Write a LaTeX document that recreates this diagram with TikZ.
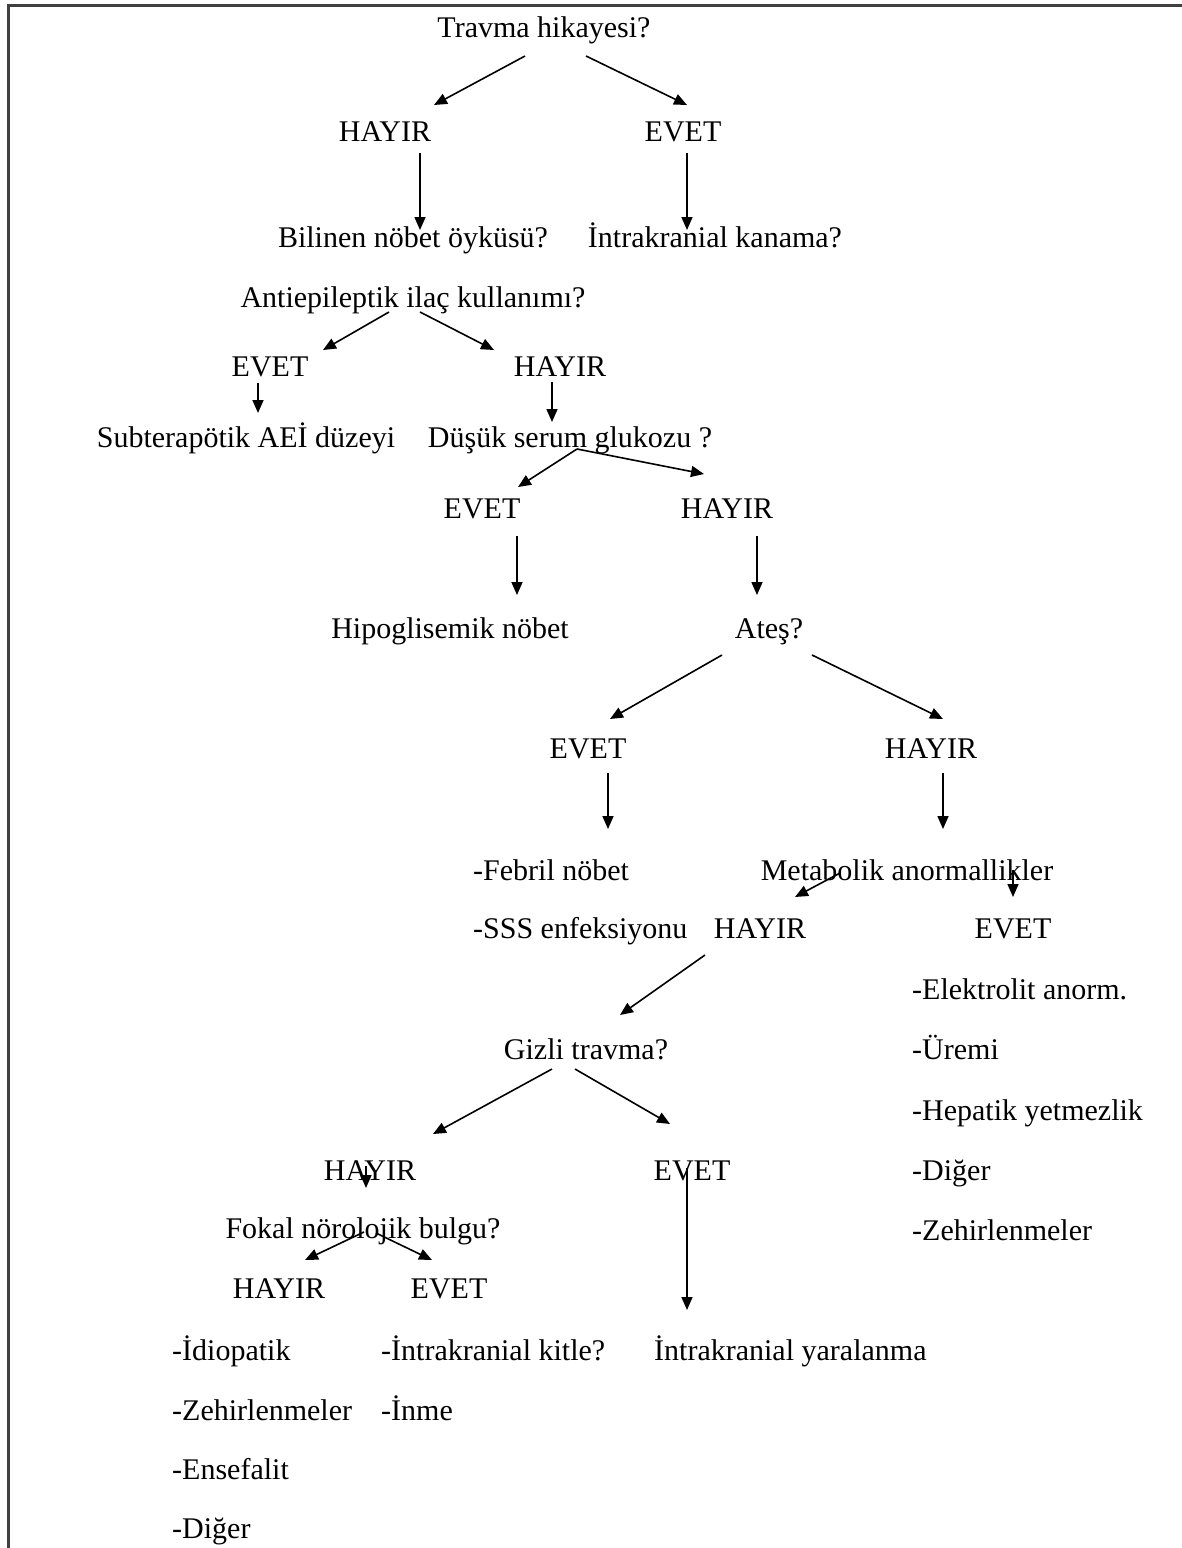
\documentclass[tikz,border=0pt]{standalone}
\usepackage{fontspec}
\setmainfont{Liberation Serif}
\usetikzlibrary{arrows.meta}
\begin{document}
\begin{tikzpicture}[x=1pt,y=-1pt,
  lbl/.style={inner sep=0pt,anchor=base,font=\fontsize{30}{36}\selectfont},
  lft/.style={lbl,anchor=base west},
  arr/.style={-{Triangle[length=13pt,width=11pt]},line width=1.6pt},
  frame/.style={line width=3pt,black!75}
]
\useasboundingbox (0,0) rectangle (1182,1548);
\coordinate (ftl) at (8,5);
\coordinate (ftr) at (1182,5);
\coordinate (fbl) at (8,1548);
\draw[frame] (ftr) -- (ftl) -- (fbl);

% nodes
\node[lbl] (travma) at (544,37) {Travma hikayesi?};
\node[lbl] (h1) at (385,141) {HAYIR};
\node[lbl] (e1) at (683,141) {EVET};
\node[lbl] (bilinen) at (413,247) {Bilinen nöbet öyküsü?};
\node[lbl] (kanama) at (715,247) {İntrakranial kanama?};
\node[lbl] (antiep) at (413,307) {Antiepileptik ilaç kullanımı?};
\node[lbl] (e2) at (270,376) {EVET};
\node[lbl] (h2) at (560,376) {HAYIR};
\node[lbl] (subter) at (246,447) {Subterapötik AEİ düzeyi};
\node[lbl] (dusuk) at (570,447) {Düşük serum glukozu ?};
\node[lbl] (e3) at (482,518) {EVET};
\node[lbl] (h3) at (727,518) {HAYIR};
\node[lbl] (hipo) at (450,638) {Hipoglisemik nöbet};
\node[lbl] (ates) at (769,638) {Ateş?};
\node[lbl] (e4) at (588,758) {EVET};
\node[lbl] (h4) at (931,758) {HAYIR};
\node[lft] (febril) at (473,880) {-Febril nöbet};
\node[lbl] (metab) at (907,880) {Metabolik anormallikler};
\node[lft] (sss) at (473,938) {-SSS enfeksiyonu};
\node[lbl] (h5) at (760,938) {HAYIR};
\node[lbl] (e5) at (1013,938) {EVET};
\node[lft] (elek) at (912,999) {-Elektrolit anorm.};
\node[lft] (uremi) at (912,1059) {-Üremi};
\node[lft] (hepatik) at (912,1120) {-Hepatik yetmezlik};
\node[lft] (diger1) at (912,1180) {-Diğer};
\node[lft] (zehir1) at (912,1240) {-Zehirlenmeler};
\node[lbl] (gizli) at (586,1059) {Gizli travma?};
\node[lbl] (h6) at (370,1180) {HAYIR};
\node[lbl] (e6) at (692,1180) {EVET};
\node[lbl] (fokal) at (363,1238) {Fokal nörolojik bulgu?};
\node[lbl] (h7) at (279,1298) {HAYIR};
\node[lbl] (e7) at (449,1298) {EVET};
\node[lft] (idio) at (172,1360) {-İdiopatik};
\node[lft] (zehir2) at (172,1420) {-Zehirlenmeler};
\node[lft] (ensef) at (172,1479) {-Ensefalit};
\node[lft] (diger2) at (172,1538) {-Diğer};
\node[lft] (kitle) at (381,1360) {-İntrakranial kitle?};
\node[lft] (inme) at (381,1420) {-İnme};
\node[lft] (yaral) at (654,1360) {İntrakranial yaralanma};

% connector end points
\coordinate (a1s) at (525,56);   \coordinate (a1e) at (434,105);
\coordinate (a2s) at (586,56);   \coordinate (a2e) at (687,105);
\coordinate (a3s) at (420,153);  \coordinate (a3e) at (420,230);
\coordinate (a4s) at (687,153);  \coordinate (a4e) at (687,230);
\coordinate (a5s) at (389,312);  \coordinate (a5e) at (323,350);
\coordinate (a6s) at (420,312);  \coordinate (a6e) at (494,350);
\coordinate (a7s) at (258,383);  \coordinate (a7e) at (258,413);
\coordinate (a8s) at (552,382);  \coordinate (a8e) at (552,422);
\coordinate (a9) at (577,449);
\coordinate (a9e) at (518,487);  \coordinate (a10e) at (704,474);
\coordinate (a11s) at (517,536); \coordinate (a11e) at (517,595);
\coordinate (a12s) at (757,536); \coordinate (a12e) at (757,595);
\coordinate (a13s) at (722,655); \coordinate (a13e) at (610,719);
\coordinate (a14s) at (812,655); \coordinate (a14e) at (943,719);
\coordinate (a15s) at (608,773); \coordinate (a15e) at (608,829);
\coordinate (a16s) at (943,773); \coordinate (a16e) at (943,829);
\coordinate (a17s) at (840,873); \coordinate (a17e) at (795,897);
\coordinate (a18s) at (1013,870);\coordinate (a18e) at (1013,897);
\coordinate (a19s) at (705,955); \coordinate (a19e) at (620,1015);
\coordinate (a20s) at (552,1069);\coordinate (a20e) at (433,1134);
\coordinate (a21s) at (575,1069);\coordinate (a21e) at (670,1124);
\coordinate (a22s) at (366,1166);\coordinate (a22e) at (366,1188);
\coordinate (a23s) at (687,1168);\coordinate (a23e) at (687,1310);
\coordinate (a24s) at (364,1232);\coordinate (a24e) at (305,1260);
\coordinate (a25s) at (376,1233);\coordinate (a25e) at (432,1260);

% connectors
\draw[arr] (a1s) -- (a1e);
\draw[arr] (a2s) -- (a2e);
\draw[arr] (a3s) -- (a3e);
\draw[arr] (a4s) -- (a4e);
\draw[arr] (a5s) -- (a5e);
\draw[arr] (a6s) -- (a6e);
\draw[arr] (a7s) -- (a7e);
\draw[arr] (a8s) -- (a8e);
\draw[arr] (a9) -- (a9e);
\draw[arr] (a9) -- (a10e);
\draw[arr] (a11s) -- (a11e);
\draw[arr] (a12s) -- (a12e);
\draw[arr] (a13s) -- (a13e);
\draw[arr] (a14s) -- (a14e);
\draw[arr] (a15s) -- (a15e);
\draw[arr] (a16s) -- (a16e);
\draw[arr] (a17s) -- (a17e);
\draw[arr] (a18s) -- (a18e);
\draw[arr] (a19s) -- (a19e);
\draw[arr] (a20s) -- (a20e);
\draw[arr] (a21s) -- (a21e);
\draw[arr] (a22s) -- (a22e);
\draw[arr] (a23s) -- (a23e);
\draw[arr] (a24s) -- (a24e);
\draw[arr] (a25s) -- (a25e);
\end{tikzpicture}
\end{document}
